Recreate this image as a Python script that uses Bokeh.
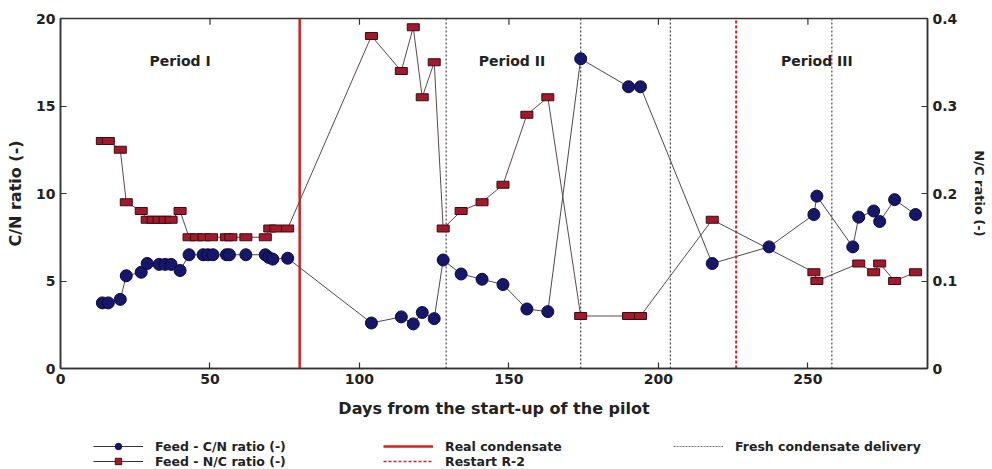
from bokeh.plotting import figure
from bokeh.models import Range1d, LinearAxis, Legend, LegendItem, FixedTicker, ColumnDataSource
from bokeh.layouts import column
from bokeh.core.properties import value
from bokeh.embed import file_html
from bokeh.resources import INLINE

# ---------------- data ----------------
cn_days = [14, 16, 20, 22, 27, 29, 33, 35, 37, 40, 43, 47.7, 49.3, 51, 55.5, 56.5, 62, 68.5, 69.6, 71,
           76, 104, 114, 118, 121, 125, 128, 134, 141, 148, 156, 163, 174, 190, 194, 218, 237, 252, 253,
           265, 267, 272, 274, 279, 286]
cn_ratio = [3.75, 3.75, 3.95, 5.3, 5.5, 6.0, 5.95, 5.95, 5.95, 5.6, 6.5, 6.5, 6.5, 6.5, 6.5, 6.5, 6.5, 6.5,
            6.35, 6.25, 6.3, 2.6, 2.95, 2.55, 3.2, 2.85, 6.2, 5.4, 5.1, 4.8, 3.4, 3.25, 17.7, 16.1, 16.1,
            6.0, 6.95, 8.8, 9.85, 6.95, 8.65, 9.0, 8.4, 9.65, 8.8]

nc_days = [14, 16, 20, 22, 27, 29, 31, 33, 35, 37, 40, 43, 45.5, 48, 50.5, 55.5, 57, 62, 68.5, 70, 72, 76,
           104, 114, 118, 121, 125, 128, 134, 141, 148, 156, 163, 174, 190, 194, 218, 252, 253, 267, 272,
           274, 279, 286]
nc_ratio = [0.26, 0.26, 0.25, 0.19, 0.18, 0.17, 0.17, 0.17, 0.17, 0.17, 0.18, 0.15, 0.15, 0.15, 0.15, 0.15,
            0.15, 0.15, 0.15, 0.16, 0.16, 0.16, 0.38, 0.34, 0.39, 0.31, 0.35, 0.16, 0.18, 0.19, 0.21, 0.29,
            0.31, 0.06, 0.06, 0.06, 0.17, 0.11, 0.10, 0.12, 0.11, 0.12, 0.10, 0.11]

real_condensate_day = 80
restart_day = 226
fresh_delivery_days = [129, 174, 204, 258]

period_labels = ["Period I", "Period II", "Period III"]
period_x = [40, 151, 253]
period_y = [17.6, 17.6, 17.6]

x_ticks = [0, 50, 100, 150, 200, 250]
cn_ticks = [0, 5, 10, 15, 20]
nc_ticks = [0, 0.1, 0.2, 0.3, 0.4]

# ---------------- styles ----------------
FONT = "DejaVu Sans"
CN_FILL, CN_LINE = "#16166a", "#0a0a3a"
NC_FILL, NC_LINE = "#a11a2c", "#3e0a10"
RED = "#d42020"

# ---------------- main figure ----------------
p = figure(width=990, height=420, x_range=Range1d(0, 290), y_range=Range1d(0, 20),
           output_backend="svg", toolbar_location=None,
           min_border_left=60, min_border_top=18, min_border_right=55, min_border_bottom=52,
           background_fill_color="white", border_fill_color="white")
p.extra_y_ranges = {"nc": Range1d(0, 0.4)}
p.xgrid.visible = False
p.ygrid.visible = False
p.outline_line_color = "#333333"
p.outline_line_width = 1.5

def style_axis(ax, ticks):
    ax.ticker = FixedTicker(ticks=ticks)
    ax.major_tick_in = 6
    ax.major_tick_out = 0
    ax.minor_tick_line_color = None
    ax.axis_line_color = "#333333"
    ax.axis_line_width = 1.5
    ax.major_tick_line_color = "#333333"
    ax.major_tick_line_width = 1.2
    ax.major_label_text_font = FONT
    ax.major_label_text_font_style = "bold"
    ax.major_label_text_font_size = "14px"
    ax.major_label_text_color = "#222222"
    ax.axis_label_text_font = FONT
    ax.axis_label_text_font_style = "bold"
    ax.axis_label_text_color = "#222222"

style_axis(p.xaxis[0], x_ticks)
p.xaxis[0].axis_label = "Days from the start-up of the pilot"
p.xaxis[0].axis_label_text_font_size = "16px"
p.xaxis[0].axis_label_standoff = 12
p.xaxis[0].major_label_standoff = 5
style_axis(p.yaxis[0], cn_ticks)
p.yaxis[0].axis_label = "C/N ratio (-)"
p.yaxis[0].axis_label_text_font_size = "16px"
p.yaxis[0].axis_label_standoff = 8

right_ax = LinearAxis(y_range_name="nc", axis_label="N/C ratio (-)")
style_axis(right_ax, nc_ticks)
right_ax.axis_label_text_font_size = "13px"
right_ax.axis_label_standoff = 12
p.add_layout(right_ax, "right")

# ---------------- vertical event lines ----------------
ymin, ymax = p.y_range.start, p.y_range.end
p.multi_line(xs=[[d, d] for d in fresh_delivery_days], ys=[[ymin, ymax]] * len(fresh_delivery_days),
             line_color="#444444", line_width=1.2, line_dash="2 2")
p.line(x=[real_condensate_day] * 2, y=[ymin, ymax], line_color=RED, line_width=2.5)
p.line(x=[restart_day] * 2, y=[ymin, ymax], line_color=RED, line_width=2, line_dash="3 2")

# top ticks (inside) along the top frame edge
p.segment(x0=x_ticks, x1=x_ticks, y0=[ymax] * len(x_ticks), y1=[ymax - 0.35] * len(x_ticks),
          line_color="#333333", line_width=1.2)

# ---------------- series ----------------
cn_src = ColumnDataSource(dict(x=cn_days, y=cn_ratio))
nc_src = ColumnDataSource(dict(x=nc_days, y=nc_ratio))

p.line("x", "y", source=nc_src, y_range_name="nc", line_color="#5a4a4a", line_width=1)
p.rect("x", "y", source=nc_src, y_range_name="nc", width=12, height=7, width_units="screen",
       height_units="screen", fill_color=NC_FILL, line_color=NC_LINE, line_width=1)
p.line("x", "y", source=cn_src, line_color="#4a4a4a", line_width=1)
p.scatter("x", "y", source=cn_src, marker="circle", size=12,
          fill_color=CN_FILL, line_color=CN_LINE, line_width=1)

# ---------------- period labels ----------------
p.text(x=period_x, y=period_y, text=period_labels, text_font=value(FONT), text_font_style="bold",
       text_font_size="14px", text_align="center", text_baseline="middle", text_color="#222222")

# ---------------- legend strip ----------------
lg = figure(width=990, height=49, x_range=Range1d(0, 1), y_range=Range1d(0, 1),
            x_axis_type=None, y_axis_type=None, output_backend="svg", toolbar_location=None,
            min_border=0, outline_line_color=None, background_fill_color="white",
            border_fill_color="white")
lg.xgrid.visible = False
lg.ygrid.visible = False

def swatch_src():
    # one anchor point outside the visible range, only so that the legend has a swatch to draw
    return ColumnDataSource(dict(x=[-1.0, -1.0], y=[-1.0, -1.0]))

cn_l = lg.line(x="x", y="y", source=swatch_src(), line_color="#333333", line_width=1)
cn_m = lg.scatter(x="x", y="y", source=swatch_src(), marker="circle", size=10,
                  fill_color=CN_FILL, line_color=CN_LINE)
nc_l = lg.line(x="x", y="y", source=swatch_src(), line_color="#333333", line_width=1)
nc_m = lg.scatter(x="x", y="y", source=swatch_src(), marker="square", size=7,
                  fill_color=NC_FILL, line_color=NC_LINE)
real_l = lg.line(x="x", y="y", source=swatch_src(), line_color=RED, line_width=2.5)
rest_l = lg.line(x="x", y="y", source=swatch_src(), line_color=RED, line_width=1.5, line_dash="3 2")
fresh_l = lg.line(x="x", y="y", source=swatch_src(), line_color="#777777", line_width=1, line_dash="2 1")

def make_legend(items, loc):
    leg = Legend(items=items, orientation="horizontal", location=loc)
    leg.border_line_color = None
    leg.background_fill_alpha = 0
    leg.label_text_font = FONT
    leg.label_text_font_style = "bold"
    leg.label_text_font_size = "12.5px"
    leg.label_text_color = "#222222"
    leg.glyph_width = 50
    leg.glyph_height = 16
    leg.label_height = 12
    leg.label_width = 228
    leg.label_standoff = 12
    leg.spacing = 0
    leg.padding = 0
    leg.margin = 0
    return leg

row1 = make_legend([
    LegendItem(label="Feed - C/N ratio (-)", renderers=[cn_l, cn_m]),
    LegendItem(label="Real condensate", renderers=[real_l]),
    LegendItem(label="Fresh condensate delivery", renderers=[fresh_l]),
], (33, 15))
row2 = make_legend([
    LegendItem(label="Feed - N/C ratio (-)", renderers=[nc_l, nc_m]),
    LegendItem(label="Restart R-2", renderers=[rest_l]),
], (33, 0))
lg.add_layout(row1, "center")
lg.add_layout(row2, "center")

layout = column(p, lg, spacing=0)
open("out.html", "w").write(file_html(layout, INLINE))
